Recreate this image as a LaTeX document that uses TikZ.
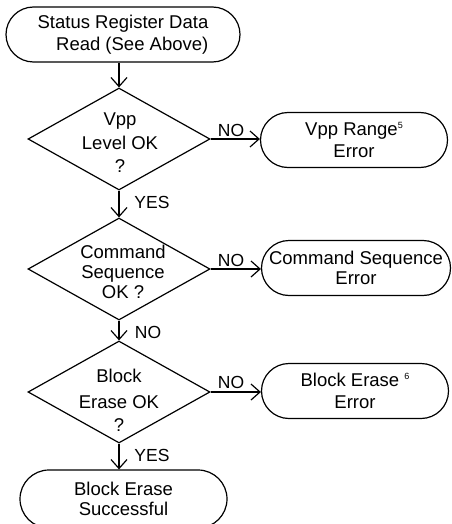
\documentclass[tikz,border=0pt]{standalone}
\usepackage{fontspec}
\setmainfont{Liberation Sans}
\usetikzlibrary{shapes.geometric,arrows.meta}
\newcommand{\supmark}[1]{{\fontsize{9}{9}\selectfont\raisebox{7pt}{#1}}}
\begin{document}
\begin{tikzpicture}[x=1pt,y=-1pt,
  line width=1.2pt,
  term/.style={draw, line width=1.2pt, rounded corners=27.5pt, inner sep=0pt,
    minimum height=55pt, font=\fontsize{18.5}{22}\selectfont, align=center},
  dia/.style={draw, diamond, line width=1.2pt, inner sep=0pt,
    minimum width=182pt, minimum height=102pt},
  dtext/.style={inner sep=0pt, font=\fontsize{18.5}{22}\selectfont, align=center},
  lbl/.style={inner sep=0pt, font=\fontsize{17.5}{20}\selectfont},
  arr/.style={-{Straight Barb[length=9pt,width=16pt]}, line width=1.2pt}
]
\useasboundingbox (0,0) rectangle (451,524);

\node[term, minimum width=234pt, align=right] (start) at (123,34.5)
  {Status Register Data\\Read (See Above)};

\node[dia] (d1) at (119,139) {};
\node[dtext] (t1) at (120,143) {Vpp\\[1.5pt]Level OK\\[1.5pt]?};
\node[dia] (d2) at (119,269) {};
\node[dtext] (t2) at (123,272) {Command\\[-2pt]Sequence\\[-2pt]OK ?};
\node[dia] (d3) at (119,392) {};
\node[dtext] (t3) at (119,400) {Block\\[4pt]Erase OK\\[1pt]?};

\node[term, minimum width=187pt] (e1) at (354,140)
  {Vpp Range\supmark{5}\\Error};
\node[term, minimum width=189pt] (e2) at (356,268)
  {Command Sequence\\[-2pt]Error};
\node[term, minimum width=187pt] (e3) at (355,391)
  {Block Erase \supmark{6}\\Error};

\node[term, minimum width=207pt, minimum height=58pt, rounded corners=29pt] (end) at (123.5,499)
  {Block Erase\\[-2pt]Successful};

\draw[arr] (d1.north |- start.south) -- (d1.north);
\draw[arr] (d1.south) -- (d2.north);
\draw[arr] (d2.south) -- (d3.north);
\draw[arr] (d3.south) -- (d3.south |- end.north);

\draw[arr] (d1.east) -- (d1.east -| e1.west);
\draw[arr] (d2.east) -- (d2.east -| e2.west);
\draw[arr] (d3.east) -- (d3.east -| e3.west);

\node[lbl] (no1) at (231,130) {NO};
\node[lbl] (yes1) at (152,202) {YES};
\node[lbl] (no2) at (231,260) {NO};
\node[lbl] (no3) at (148,332) {NO};
\node[lbl] (no4) at (231,382) {NO};
\node[lbl] (yes2) at (152,455) {YES};
\end{tikzpicture}
\end{document}
